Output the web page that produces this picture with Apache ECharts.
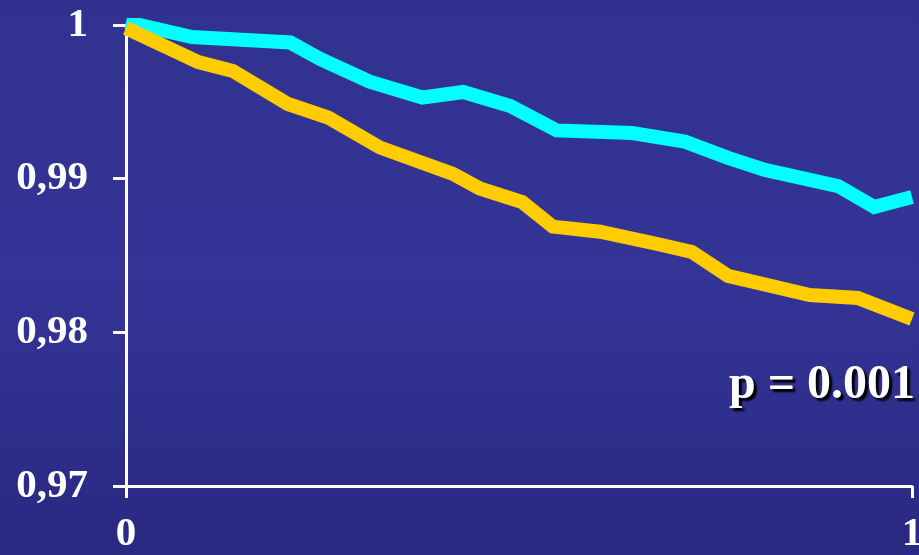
<!DOCTYPE html>
<html>
<head>
<meta charset="utf-8">
<script src="https://cdn.jsdelivr.net/npm/echarts@6/dist/echarts.min.js"></script>
<style>
html,body{margin:0;padding:0;background:#333399;}
#chart{width:919px;height:555px;}
</style>
</head>
<body>
<div id="chart"></div>
<script>
// Data
var cyanX = [0, 0.084, 0.209, 0.247, 0.310, 0.377, 0.429, 0.489, 0.548, 0.644, 0.711, 0.766, 0.813, 0.906, 0.952, 1.0];
var cyanY = [1.0002, 0.99922, 0.99886, 0.99779, 0.99631, 0.99528, 0.99564, 0.99473, 0.99314, 0.99297, 0.99241, 0.99135, 0.99057, 0.98952, 0.98816, 0.98881];
var goldX = [0, 0.092, 0.136, 0.206, 0.257, 0.323, 0.416, 0.450, 0.504, 0.543, 0.603, 0.676, 0.720, 0.766, 0.870, 0.931, 1.0];
var goldY = [0.9998, 0.99759, 0.99701, 0.99486, 0.99398, 0.99203, 0.99031, 0.98936, 0.98848, 0.98688, 0.98655, 0.98575, 0.98523, 0.98367, 0.98243, 0.98224, 0.98087];
var yTicks = [0.97, 0.98, 0.99, 1];
var xTicks = [0, 1];
var pText = 'p = 0.001';

function pairs(xs, ys) {
  var out = [];
  for (var i = 0; i < xs.length; i++) out.push([xs[i], ys[i]]);
  return out;
}

var chart = echarts.init(document.getElementById('chart'));
var labelFont = {color: '#ffffff', fontFamily: '"Liberation Serif","Times New Roman",serif', fontWeight: 'bold', fontSize: 41};

chart.setOption({
  animation: false,
  backgroundColor: {
    type: 'linear', x: 0, y: 0, x2: 0, y2: 1,
    colorStops: [
      {offset: 0, color: '#31318f'},
      {offset: 0.5, color: '#343497'},
      {offset: 1, color: '#292982'}
    ]
  },
  grid: {left: 126, right: 7, top: 25, bottom: 69, containLabel: false, outerBoundsMode: 'none'},
  xAxis: {
    type: 'value', min: xTicks[0], max: xTicks[xTicks.length - 1], interval: 1,
    axisLine: {show: true, lineStyle: {color: '#ffffff', width: 3}},
    axisTick: {show: true, length: 12, lineStyle: {color: '#ffffff', width: 3}},
    splitLine: {show: false},
    axisLabel: Object.assign({margin: 28, alignMinLabel: 'center', alignMaxLabel: 'center', hideOverlap: false,
      formatter: function (v) { return String(v); }}, labelFont)
  },
  yAxis: {
    type: 'value', min: yTicks[0], max: yTicks[yTicks.length - 1], interval: 0.01,
    axisLine: {show: true, lineStyle: {color: '#ffffff', width: 3}},
    axisTick: {show: true, length: 13, lineStyle: {color: '#ffffff', width: 3}},
    splitLine: {show: false},
    axisLabel: Object.assign({margin: 38, formatter: function (v) {
      return String(+(+v).toFixed(2)).replace('.', ',');
    }}, labelFont)
  },
  series: [
    {
      type: 'line', data: pairs(cyanX, cyanY), symbol: 'none', z: 3,
      lineStyle: {color: '#00ffff', width: 14, join: 'miter', cap: 'butt'}
    },
    {
      type: 'line', data: pairs(goldX, goldY), symbol: 'none', z: 4,
      lineStyle: {color: '#ffcc00', width: 14, join: 'miter', cap: 'butt'}
    }
  ],
  graphic: [{
    type: 'text', left: 729, top: 362, z: 10,
    style: {
      text: pText, fill: '#ffffff',
      font: 'bold 48px "Liberation Serif","Times New Roman",serif',
      textShadowColor: '#000000', textShadowOffsetX: 3, textShadowOffsetY: 3, textShadowBlur: 2
    }
  }]
});
</script>
</body>
</html>
